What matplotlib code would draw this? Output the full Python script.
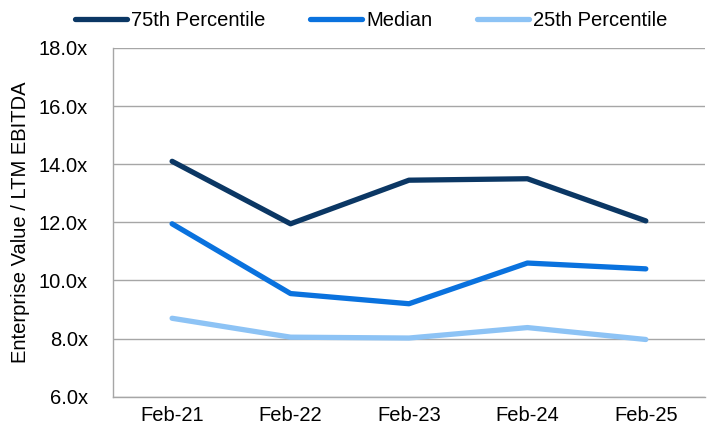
import matplotlib.pyplot as plt
from matplotlib.ticker import FuncFormatter

plt.rcParams['font.family'] = ['Liberation Sans', 'DejaVu Sans']

years = ['Feb-21', 'Feb-22', 'Feb-23', 'Feb-24', 'Feb-25']
p75 = [14.1, 11.95, 13.45, 13.5, 12.05]
median = [11.95, 9.55, 9.2, 10.6, 10.4]
p25 = [8.7, 8.05, 8.02, 8.38, 7.97]

fig = plt.figure(figsize=(7.1, 4.28), dpi=100)
ax = fig.add_axes([0.159, 0.073, 0.834, 0.815])

x = range(len(years))
ax.plot(x, p75, color='#0B3764', lw=3.8, solid_capstyle='round', label='75th Percentile')
ax.plot(x, median, color='#0A72DE', lw=3.8, solid_capstyle='round', label='Median')
ax.plot(x, p25, color='#8DC3F5', lw=3.8, solid_capstyle='round', label='25th Percentile')

ax.set_xlim(-0.5, 4.5)
ax.set_ylim(6, 18)
ax.set_yticks([6, 8, 10, 12, 14, 16, 18])
ax.yaxis.set_major_formatter(FuncFormatter(lambda v, p: f'{v:.1f}x'))
ax.set_xticks(list(x))
ax.set_xticklabels(years)
ax.tick_params(length=0, labelsize=14.5, colors='black')
ax.tick_params(axis='x', pad=7)
ax.tick_params(axis='y', pad=18)
ax.grid(axis='y', color='#A6A6A6', lw=1)
ax.set_axisbelow(True)
for s in ['top', 'right']:
    ax.spines[s].set_visible(False)
for s in ['left', 'bottom']:
    ax.spines[s].set_color('#A6A6A6')
    ax.spines[s].set_linewidth(1)
ax.set_ylabel('Enterprise Value / LTM EBITDA', fontsize=14.5, labelpad=6)

fig.legend(loc='center', bbox_to_anchor=(0.523, 0.953), ncol=3, frameon=False,
           fontsize=14.5, handlelength=2.6, handletextpad=0.2, columnspacing=2.2,
           borderpad=0.2)

fig.savefig('out.png', dpi=100)
